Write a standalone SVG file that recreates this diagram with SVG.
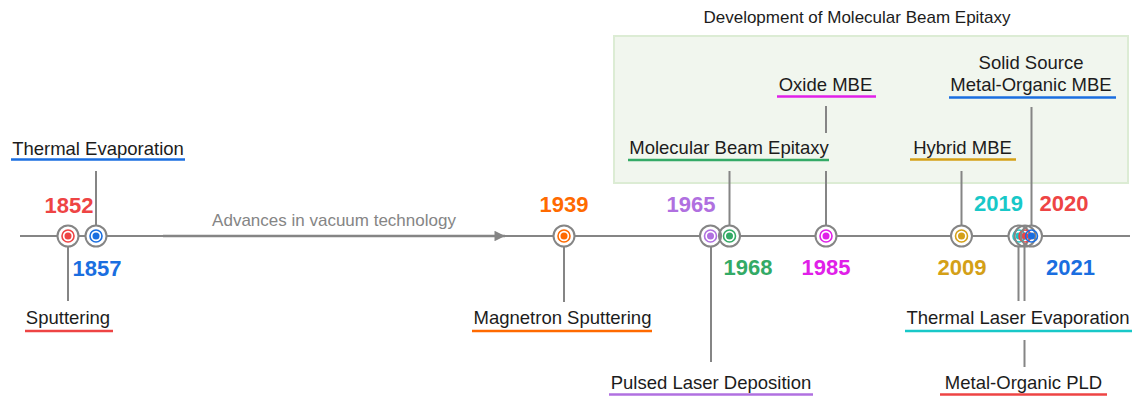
<svg xmlns="http://www.w3.org/2000/svg" width="1140" height="396" viewBox="0 0 1140 396">
<defs>
<style>
.lbl{font-family:"Liberation Sans",Arial,sans-serif;font-size:18.5px;fill:#1c1c1c;text-anchor:middle}
.yr{font-family:"Liberation Sans",Arial,sans-serif;font-size:22px;font-weight:bold;text-anchor:middle}
.ttl{font-family:"Liberation Sans",Arial,sans-serif;font-size:17px;fill:#1c1c1c;text-anchor:middle}
.adv{font-family:"Liberation Sans",Arial,sans-serif;font-size:17px;fill:#858585;text-anchor:middle}
.ln{stroke:#858585;stroke-width:2;fill:none}
.ring{stroke:#858585;stroke-width:2;fill:none}
.bg{fill:#ffffff}
.ul{stroke-width:2.5;fill:none}
</style>
<marker id="arr" viewBox="0 0 10 10" refX="10" refY="5" markerWidth="7" markerHeight="4.2" markerUnits="strokeWidth" orient="auto">
<path d="M0,0 L10,5 L0,10 z" fill="#858585"/>
</marker>
</defs>
<rect width="1140" height="396" fill="#ffffff"/>
<g id="mbe-box">
<rect x="614" y="36" width="514" height="147" fill="#f1f6ee" stroke="#dcecd4" stroke-width="2"/>
<text class="ttl" x="857" y="23">Development of Molecular Beam Epitaxy</text>
</g>
<g id="connectors">
<line class="ln" x1="20" y1="236" x2="1130" y2="236"/>
<line x1="163" y1="236" x2="505" y2="236" stroke="#858585" stroke-width="2.5" marker-end="url(#arr)"/>
<text class="adv" x="334" y="226">Advances in vacuum technology</text>
<line class="ln" x1="68" y1="247" x2="68" y2="301"/>
<line class="ln" x1="96" y1="171" x2="96" y2="225"/>
<line class="ln" x1="564" y1="247" x2="564" y2="302"/>
<line class="ln" x1="711" y1="247" x2="711" y2="362"/>
<line class="ln" x1="729.5" y1="171" x2="729.5" y2="225"/>
<line class="ln" x1="826" y1="106" x2="826" y2="133"/>
<line class="ln" x1="826" y1="171" x2="826" y2="225"/>
<line class="ln" x1="961.5" y1="171" x2="961.5" y2="225"/>
<line class="ln" x1="1018.5" y1="247" x2="1018.5" y2="301"/>
<line class="ln" x1="1024.5" y1="247" x2="1024.5" y2="301"/>
<line class="ln" x1="1024.5" y1="340" x2="1024.5" y2="367"/>
<line class="ln" x1="1031.5" y1="107" x2="1031.5" y2="225"/>
</g>
<g id="marker-bg">
<circle class="bg" cx="68" cy="236" r="10.5"/>
<circle class="bg" cx="96" cy="236" r="10.5"/>
<circle class="bg" cx="564" cy="236" r="10.5"/>
<circle class="bg" cx="710.5" cy="236" r="10.5"/>
<circle class="bg" cx="729.5" cy="236" r="10.5"/>
<circle class="bg" cx="826" cy="236" r="10.5"/>
<circle class="bg" cx="961.5" cy="236" r="10.5"/>
<circle class="bg" cx="1019" cy="236" r="10.5"/>
<circle class="bg" cx="1025" cy="236" r="10.5"/>
<circle class="bg" cx="1031.5" cy="236" r="10.5"/>
</g>
<g id="n1852">
<circle class="ring" cx="68" cy="236" r="10.5"/>
<circle cx="68" cy="236" r="6" fill="none" stroke="#ee4444" stroke-width="1.6"/>
<circle cx="68" cy="236" r="3.5" fill="#ee4444"/>
<text class="yr" x="69" y="212.5" fill="#ee4444">1852</text>
<text class="lbl" x="68" y="324">Sputtering</text>
<line class="ul" x1="25" y1="331" x2="113" y2="331" stroke="#ee4444"/>
</g>
<g id="n1857">
<circle class="ring" cx="96" cy="236" r="10.5"/>
<circle cx="96" cy="236" r="6" fill="none" stroke="#1a6ee0" stroke-width="1.6"/>
<circle cx="96" cy="236" r="3.5" fill="#1a6ee0"/>
<text class="yr" x="97" y="276" fill="#1a6ee0">1857</text>
<text class="lbl" x="98" y="155">Thermal Evaporation</text>
<line class="ul" x1="11" y1="159.5" x2="185" y2="159.5" stroke="#1a6ee0"/>
</g>
<g id="n1939">
<circle class="ring" cx="564" cy="236" r="10.5"/>
<circle cx="564" cy="236" r="6" fill="none" stroke="#ff6a00" stroke-width="1.6"/>
<circle cx="564" cy="236" r="3.5" fill="#ff6a00"/>
<text class="yr" x="564" y="211.5" fill="#ff6a00">1939</text>
<text class="lbl" x="562.5" y="324">Magnetron Sputtering</text>
<line class="ul" x1="472" y1="331" x2="652" y2="331" stroke="#ff6a00"/>
</g>
<g id="n1965">
<circle class="ring" cx="710.5" cy="236" r="10.5"/>
<circle cx="710.5" cy="236" r="6" fill="none" stroke="#b070e0" stroke-width="1.6"/>
<circle cx="710.5" cy="236" r="3.5" fill="#b070e0"/>
<text class="yr" x="691" y="211.5" fill="#b070e0">1965</text>
<text class="lbl" x="711" y="388.5">Pulsed Laser Deposition</text>
<line class="ul" x1="609" y1="394.5" x2="813" y2="394.5" stroke="#b070e0"/>
</g>
<g id="n1968">
<circle class="ring" cx="729.5" cy="236" r="10.5"/>
<circle cx="729.5" cy="236" r="6" fill="none" stroke="#33aa66" stroke-width="1.6"/>
<circle cx="729.5" cy="236" r="3.5" fill="#33aa66"/>
<text class="yr" x="748" y="274.5" fill="#33aa66">1968</text>
<text class="lbl" x="729" y="154">Molecular Beam Epitaxy</text>
<line class="ul" x1="628" y1="160" x2="829" y2="160" stroke="#33aa66"/>
</g>
<g id="n1985">
<circle class="ring" cx="826" cy="236" r="10.5"/>
<circle cx="826" cy="236" r="6" fill="none" stroke="#e020e8" stroke-width="1.6"/>
<circle cx="826" cy="236" r="3.5" fill="#e020e8"/>
<text class="yr" x="826" y="274.5" fill="#e020e8">1985</text>
<text class="lbl" x="825.5" y="91">Oxide MBE</text>
<line class="ul" x1="777" y1="96.5" x2="876" y2="96.5" stroke="#e020e8"/>
</g>
<g id="n2009">
<circle class="ring" cx="961.5" cy="236" r="10.5"/>
<circle cx="961.5" cy="236" r="6" fill="none" stroke="#d4a017" stroke-width="1.6"/>
<circle cx="961.5" cy="236" r="3.5" fill="#d4a017"/>
<text class="yr" x="962" y="274.5" fill="#d4a017">2009</text>
<text class="lbl" x="962.5" y="153.5">Hybrid MBE</text>
<line class="ul" x1="910" y1="159.5" x2="1016" y2="159.5" stroke="#d4a017"/>
</g>
<g id="n2019">
<circle class="ring" cx="1019" cy="236" r="10.5"/>
<circle cx="1019" cy="236" r="6" fill="none" stroke="#18c8c8" stroke-width="1.6"/>
<circle cx="1019" cy="236" r="3.5" fill="#18c8c8"/>
<text class="yr" x="998.5" y="210.5" fill="#18c8c8">2019</text>
<text class="lbl" x="1018" y="323.5">Thermal Laser Evaporation</text>
<line class="ul" x1="905" y1="331" x2="1132" y2="331" stroke="#18c8c8"/>
</g>
<g id="n2020">
<circle class="ring" cx="1025" cy="236" r="10.5"/>
<circle cx="1025" cy="236" r="6" fill="none" stroke="#ee4444" stroke-width="1.6"/>
<circle cx="1025" cy="236" r="3.5" fill="#ee4444"/>
<text class="yr" x="1064" y="210.5" fill="#ee4444">2020</text>
<text class="lbl" x="1023.5" y="388.5">Metal-Organic PLD</text>
<line class="ul" x1="940" y1="394.5" x2="1107" y2="394.5" stroke="#ee4444"/>
</g>
<g id="n2021">
<circle class="ring" cx="1031.5" cy="236" r="10.5"/>
<circle cx="1031.5" cy="236" r="6" fill="none" stroke="#1a6ee0" stroke-width="1.6"/>
<circle cx="1031.5" cy="236" r="3.5" fill="#1a6ee0"/>
<text class="yr" x="1070.5" y="274.5" fill="#1a6ee0">2021</text>
<text class="lbl" x="1031" y="68.5">Solid Source</text>
<text class="lbl" x="1031" y="91">Metal-Organic MBE</text>
<line class="ul" x1="949" y1="97.5" x2="1116" y2="97.5" stroke="#1a6ee0"/>
</g>
</svg>
